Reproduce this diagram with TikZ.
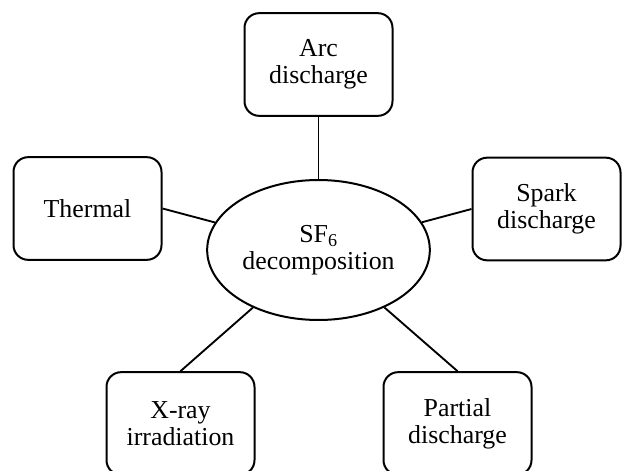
\documentclass[tikz,border=0pt]{standalone}
\usepackage{fontspec}
\setmainfont{Liberation Serif}
\usetikzlibrary{shapes.geometric}

\tikzset{
  cause/.style={draw, line width=1.5pt, rounded corners=11pt, minimum width=111pt,
    minimum height=77pt, align=center, font=\fontsize{19.4}{20.5}\selectfont},
  hub/.style={draw, ellipse, line width=1.5pt, minimum width=167pt, minimum height=105pt,
    inner sep=0pt, align=center, font=\fontsize{19.4}{20.5}\selectfont},
  link/.style={line width=1.4pt}
}

\begin{document}
\begin{tikzpicture}[x=0.75pt,y=-0.75pt]
    \clip (0,0) rectangle (622,471);
    \node[hub] (sf6) at (318.5,250) {SF\textsubscript{6}\\decomposition};
    \node[cause] (arc) at (318.5,64.5) {Arc\\discharge};
    \node[cause] (thermal) at (87.5,208.5) {Thermal};
    \node[cause] (spark) at (546.5,209) {Spark\\discharge};
    \node[cause] (xray) at (180.5,423.5) {X-ray\\irradiation};
    \node[cause] (partial) at (457.5,423.5) {Partial\\discharge};
    \draw[link] (arc.south) -- (sf6);
    \draw[link] (thermal.east) -- (sf6);
    \draw[link] (spark.west) -- (sf6);
    \draw[link] (xray.north) -- (sf6);
    \draw[link] (partial.north) -- (sf6);
\end{tikzpicture}
\end{document}
